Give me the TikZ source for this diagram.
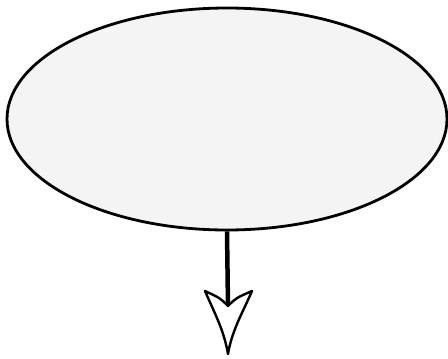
\documentclass[tikz,border=0pt]{standalone}
\usetikzlibrary{shapes.geometric}
\definecolor{speck}{gray}{0.955}
\tikzset{
  blob/.style={ellipse, draw=black, line width=2.8pt, fill=speck, minimum width=440pt, minimum height=222pt, inner sep=0pt},
  shaft/.style={line width=4.5pt, line cap=butt},
  headline/.style={draw=black, line width=2.4pt, fill=white, line join=round}
}
\begin{document}
\begin{tikzpicture}[x=1pt,y=-1pt]
\useasboundingbox (0,0) rectangle (448,359);
\node[blob] (e) at (227,119) {};
\coordinate (notch) at (228,306);
\coordinate (lw) at (205,291);
\coordinate (rw) at (252,291);
\coordinate (tip) at (228,354);
\draw[shaft] (e.south) -- (notch);
\path[headline] (notch) .. controls (220,298) .. (lw)
  .. controls (214,312) and (224,330) .. (tip)
  .. controls (232,330) and (243,312) .. (rw)
  .. controls (236,298) .. (notch) -- cycle;
\end{tikzpicture}
\end{document}
